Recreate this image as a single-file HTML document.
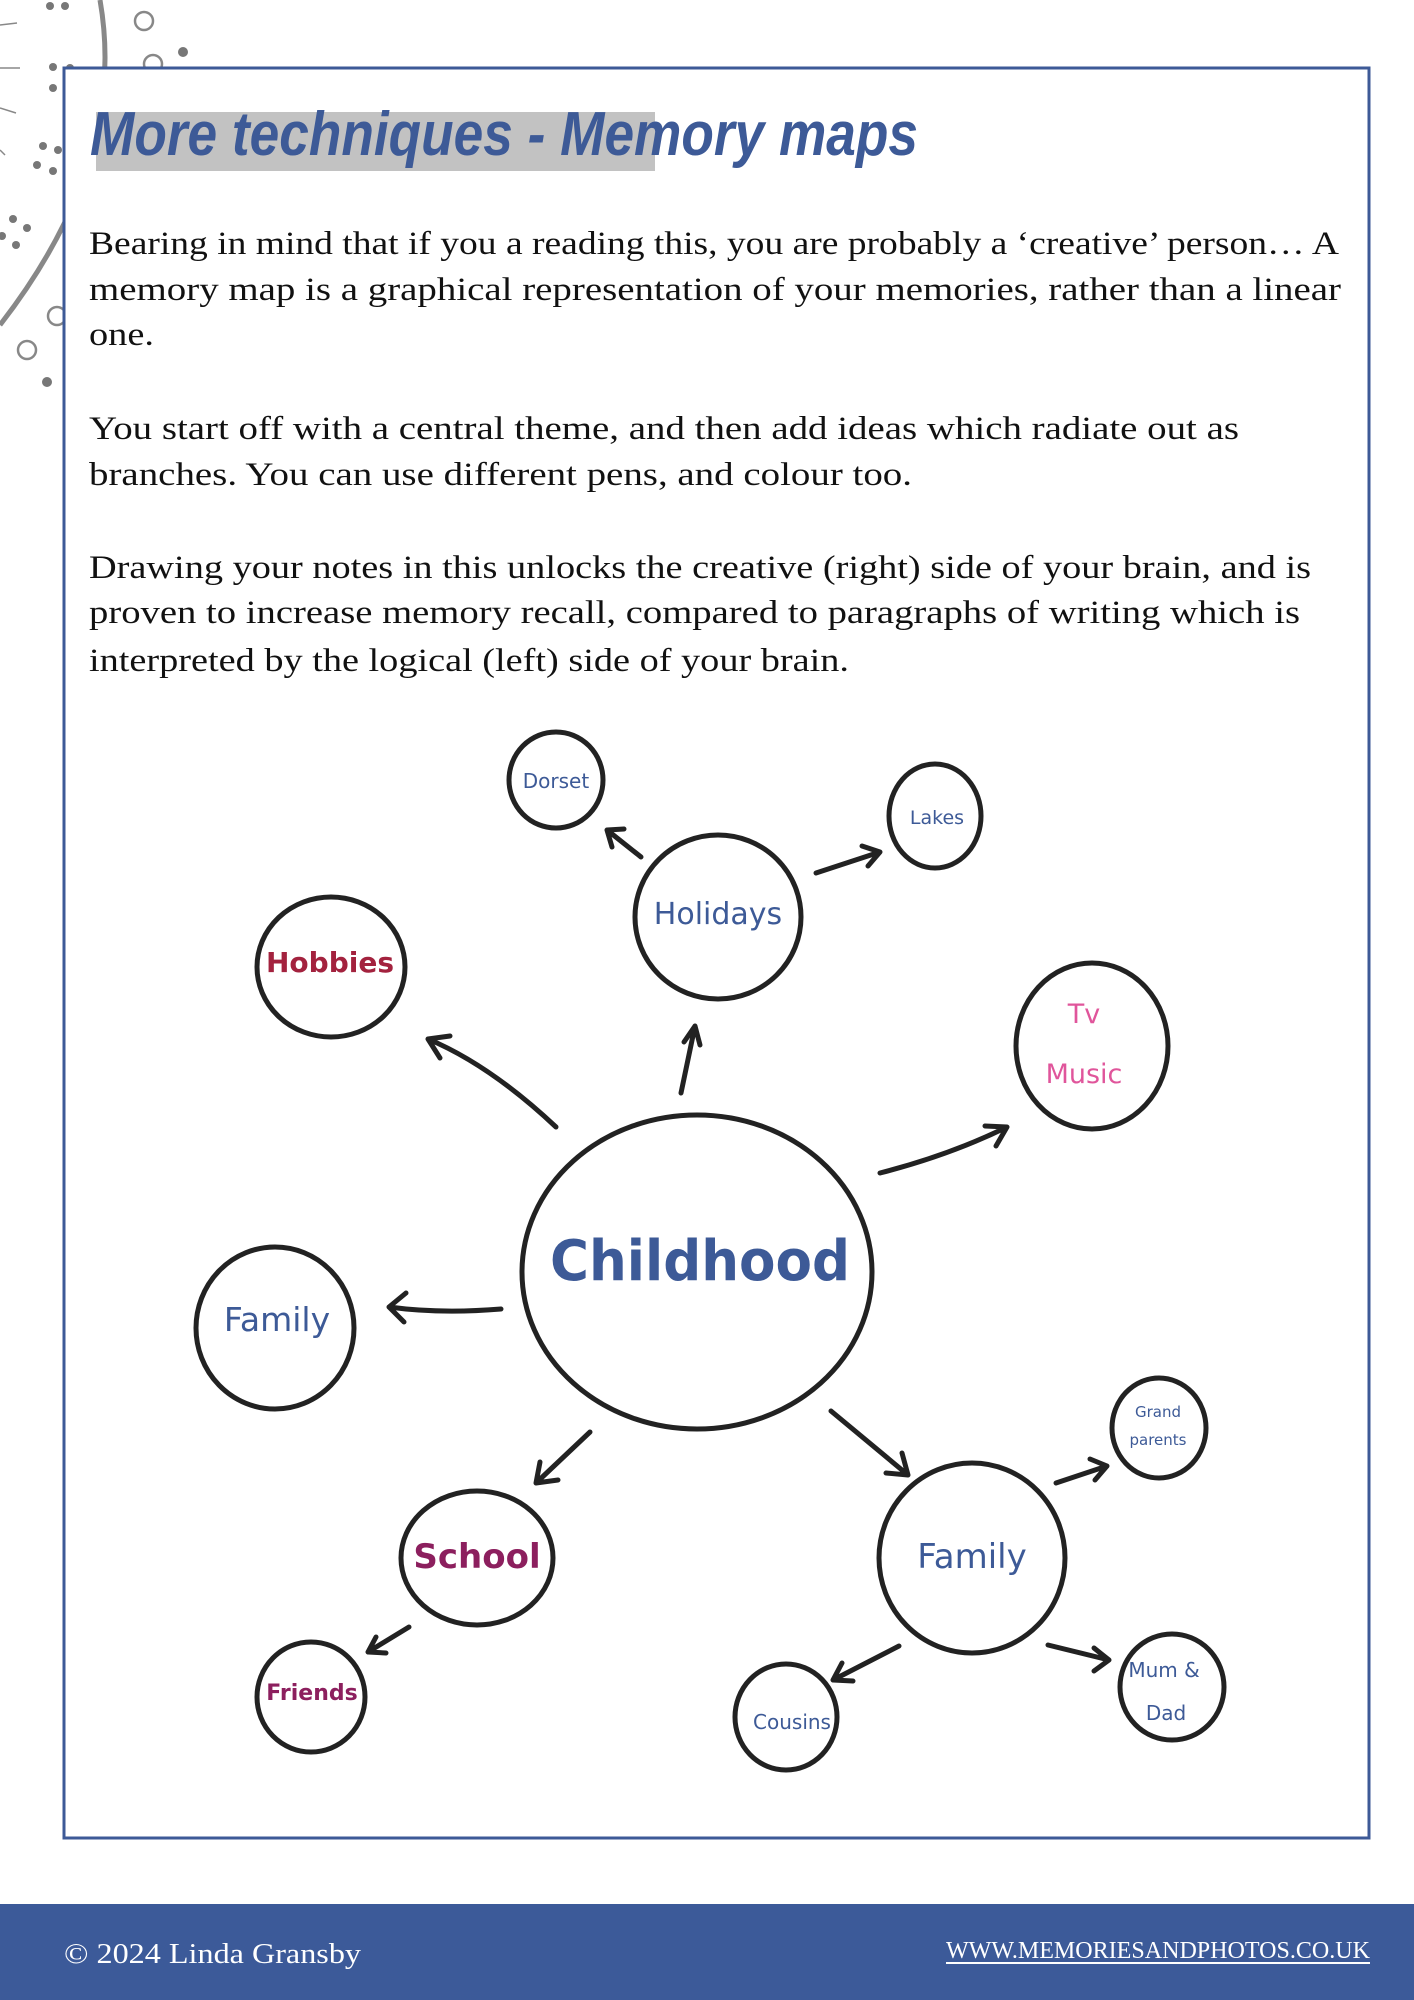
<!DOCTYPE html>
<html><head><meta charset="utf-8"><style>
html,body{margin:0;padding:0;background:#fff}
body{width:1414px;height:2000px;position:relative;overflow:hidden}
svg{position:absolute;left:0;top:0}
</style></head><body>
<svg width="1414" height="2000" viewBox="0 0 1414 2000" xmlns="http://www.w3.org/2000/svg">
<g fill="#777" stroke="none">
<circle cx="50" cy="6" r="4"/><circle cx="65" cy="6" r="4"/><circle cx="53" cy="67" r="4"/><circle cx="53" cy="88" r="4"/>
<circle cx="43" cy="146" r="4"/><circle cx="37" cy="165" r="4"/><circle cx="53" cy="171" r="4"/><circle cx="58" cy="150" r="4"/>
<circle cx="13" cy="219" r="4"/><circle cx="27" cy="228" r="4"/><circle cx="2" cy="236" r="4"/><circle cx="16" cy="245" r="4"/>
<circle cx="47" cy="382" r="5"/><circle cx="183" cy="52" r="5"/><circle cx="70" cy="68" r="4"/>
</g>
<g fill="none" stroke="#888" stroke-width="2.5">
<circle cx="144" cy="21" r="9"/><circle cx="153" cy="64" r="9"/><circle cx="57" cy="316" r="9"/><circle cx="27" cy="350" r="9"/>
<path d="M100,0 Q128,160 0,325" stroke-width="5"/>
<path d="M0,25 L17,23 M0,68 L20,68 M0,108 L16,113 M0,150 L5,155" stroke-width="1.5"/>
</g>
<rect x="64" y="68" width="1305" height="1770" fill="#fff" stroke="#3d5a97" stroke-width="3"/>
<rect x="96" y="112" width="559" height="59" fill="#c2c2c2"/>
<text x="90" y="155" font-family="Liberation Sans, sans-serif" font-style="italic" font-weight="bold" font-size="62" fill="#3d5a97" textLength="828" lengthAdjust="spacingAndGlyphs">More techniques - Memory maps</text>
<g font-family="Liberation Serif, serif" font-size="33" fill="#111">
<text x="89" y="254" textLength="1250" lengthAdjust="spacingAndGlyphs">Bearing in mind that if you a reading this, you are probably a ‘creative’ person… A</text>
<text x="89" y="300" textLength="1252" lengthAdjust="spacingAndGlyphs">memory map is a graphical representation of your memories, rather than a linear</text>
<text x="89" y="345" textLength="65" lengthAdjust="spacingAndGlyphs">one.</text>
<text x="89" y="439" textLength="1150" lengthAdjust="spacingAndGlyphs">You start off with a central theme, and then add ideas which radiate out as</text>
<text x="89" y="485" textLength="823" lengthAdjust="spacingAndGlyphs">branches. You can use different pens, and colour too.</text>
<text x="89" y="578" textLength="1222" lengthAdjust="spacingAndGlyphs">Drawing your notes in this unlocks the creative (right) side of your brain, and is</text>
<text x="89" y="623" textLength="1211" lengthAdjust="spacingAndGlyphs">proven to increase memory recall, compared to paragraphs of writing which is</text>
<text x="89" y="671" textLength="760" lengthAdjust="spacingAndGlyphs">interpreted by the logical (left) side of your brain.</text>
</g>
<g fill="none" stroke="#222" stroke-width="5" stroke-linecap="round">
<ellipse cx="556" cy="780" rx="47" ry="48"/>
<ellipse cx="935" cy="816" rx="46" ry="52"/>
<ellipse cx="718" cy="917" rx="83" ry="82"/>
<ellipse cx="331" cy="967" rx="74" ry="70"/>
<ellipse cx="1092" cy="1046" rx="76" ry="83"/>
<ellipse cx="697" cy="1272" rx="175" ry="157"/>
<ellipse cx="275" cy="1328" rx="79" ry="81"/>
<ellipse cx="477" cy="1558" rx="76" ry="67"/>
<ellipse cx="311" cy="1697" rx="54" ry="55"/>
<ellipse cx="972" cy="1558" rx="93" ry="95"/>
<ellipse cx="1159" cy="1428" rx="47" ry="50"/>
<ellipse cx="786" cy="1717" rx="51" ry="53"/>
<ellipse cx="1172" cy="1687" rx="52" ry="53"/>
<path d="M641,857 L607,830 M607,830 L624,829 M607,830 L612,847"/>
<path d="M816,873 L880,852 M880,852 L862,846 M880,852 L868,866"/>
<path d="M681,1093 L695,1026 M695,1026 L684,1042 M695,1026 L700,1045"/>
<path d="M556,1127 Q490,1065 428,1039 M428,1039 L440,1058 M428,1039 L450,1036"/>
<path d="M880,1173 Q950,1155 1007,1127 M1007,1127 L985,1126 M1007,1127 L996,1146"/>
<path d="M501,1309 Q440,1314 389,1307 M389,1307 L406,1293 M389,1307 L404,1322"/>
<path d="M590,1432 L536,1483 M536,1483 L558,1480 M536,1483 L540,1462"/>
<path d="M831,1411 L908,1475 M908,1475 L902,1453 M908,1475 L886,1473"/>
<path d="M1056,1483 L1107,1466 M1107,1466 L1090,1459 M1107,1466 L1095,1480"/>
<path d="M1048,1645 L1109,1660 M1109,1660 L1094,1648 M1109,1660 L1094,1671"/>
<path d="M899,1646 L833,1680 M833,1680 L853,1681 M833,1680 L842,1663"/>
<path d="M409,1627 L368,1652 M368,1652 L386,1653 M368,1652 L376,1637"/>
</g>
<g font-family="DejaVu Sans, sans-serif" text-anchor="middle">
<text x="556" y="788" font-size="20" fill="#3d5a97">Dorset</text>
<text x="937" y="824" font-size="19" fill="#3d5a97">Lakes</text>
<text x="718" y="924" font-size="30" fill="#3d5a97">Holidays</text>
<text x="330" y="972" font-size="28" fill="#a3223e" font-weight="bold">Hobbies</text>
<text x="1084" y="1023" font-size="27" fill="#e0559b">Tv</text>
<text x="1084" y="1083" font-size="27" fill="#e0559b">Music</text>
<text x="700" y="1280" font-size="56" fill="#3d5a97" font-weight="bold" textLength="300" lengthAdjust="spacingAndGlyphs">Childhood</text>
<text x="277" y="1331" font-size="33" fill="#3d5a97">Family</text>
<text x="477" y="1568" font-size="34" fill="#8c1f5e" font-weight="bold">School</text>
<text x="312" y="1700" font-size="22" fill="#8c1f5e" font-weight="bold">Friends</text>
<text x="972" y="1568" font-size="34" fill="#3d5a97">Family</text>
<text x="1158" y="1417" font-size="15" fill="#3d5a97">Grand</text>
<text x="1158" y="1445" font-size="15" fill="#3d5a97">parents</text>
<text x="792" y="1729" font-size="20" fill="#3d5a97">Cousins</text>
<text x="1164" y="1677" font-size="20" fill="#3d5a97">Mum &amp;</text>
<text x="1166" y="1720" font-size="20" fill="#3d5a97">Dad</text>
</g>
<rect x="0" y="1904" width="1414" height="96" fill="#3c5a99"/>
<text x="64" y="1963" font-family="Liberation Serif, serif" font-size="29" fill="#fff" textLength="297" lengthAdjust="spacingAndGlyphs">© 2024 Linda Gransby</text>
<text x="1370" y="1958" text-anchor="end" font-family="Liberation Serif, serif" font-size="24" fill="#fff" textLength="424" lengthAdjust="spacingAndGlyphs">WWW.MEMORIESANDPHOTOS.CO.UK</text>
<rect x="946" y="1962" width="424" height="2" fill="#fff"/>
</svg>
</body></html>
